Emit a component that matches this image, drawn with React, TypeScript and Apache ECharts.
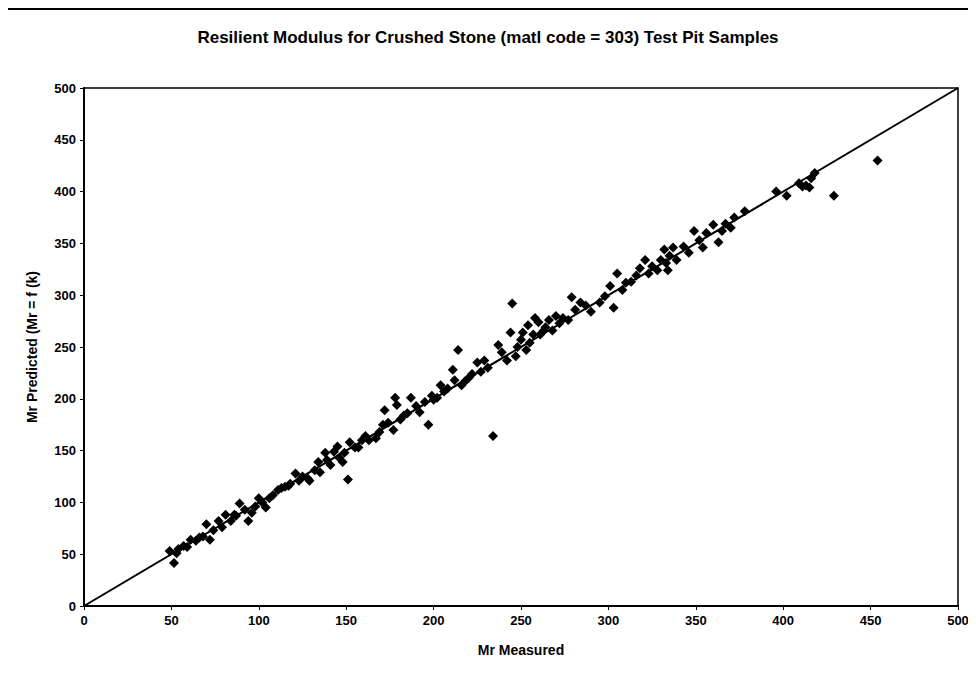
import React, { useEffect, useRef } from "react";
import * as echarts from "echarts";

const titleText = "Resilient Modulus for Crushed Stone (matl code = 303) Test Pit Samples";
const xAxisName = "Mr Measured";
const yAxisName = "Mr Predicted (Mr = f (k)";

const measured: number[] = [
  49, 51.5, 54, 57, 61, 64, 66, 70, 72, 74, 77, 79, 81, 84, 86, 89, 92, 94, 96, 100,
  102, 104, 108, 111, 115, 118, 121, 123, 125, 128, 129, 134, 135, 138, 139, 141, 143, 145, 148, 149,
  151, 152, 155, 157, 159, 161, 167, 169, 171, 172, 174, 177, 178, 179, 181, 183, 187, 190, 192, 195,
  197, 199, 202, 204, 206, 208, 211, 212, 214, 216, 220, 222, 225, 227, 229, 231, 234, 237, 239, 242,
  244, 245, 247, 250, 251, 253, 254, 255, 258, 260, 261, 264, 266, 268, 270, 274, 277, 279, 281, 284,
  287, 290, 298, 301, 303, 305, 308, 313, 316, 318, 321, 323, 325, 328, 330, 332, 333, 334, 337, 339,
  343, 349, 352, 354, 356, 360, 363, 367, 370, 372, 378, 396, 402, 409, 411, 413, 415, 416, 418, 429,
  454, 53, 59, 68, 87, 98, 106, 113, 117, 132, 146, 163, 185, 200, 218, 248, 257, 263, 272, 295,
  310, 335, 346, 365
];
const predicted: number[] = [
  53, 41.5, 55, 58, 64, 63, 66, 79, 64, 73, 82, 76, 88, 82, 88, 99, 93, 82, 90, 104,
  100, 95, 107, 112, 115, 118, 128, 121, 125, 123, 121, 139, 129, 148, 141, 136, 149, 154, 139, 148,
  122, 158, 153, 153, 160, 164, 162, 168, 175, 189, 177, 170, 201, 194, 180, 184, 201, 193, 187, 197,
  175, 203, 201, 213, 207, 210, 228, 218, 247, 213, 220, 224, 235, 226, 237, 230, 164, 252, 245, 237,
  264, 292, 241, 257, 264, 247, 271, 254, 278, 274, 262, 269, 276, 266, 280, 278, 276, 298, 286, 293,
  290, 284, 299, 309, 288, 321, 305, 313, 319, 326, 334, 321, 328, 324, 334, 344, 331, 324, 346, 334,
  347, 362, 353, 346, 360, 368, 351, 369, 365, 375, 381, 400, 396, 408, 405, 406, 404, 413, 418, 396,
  430, 51, 57, 67, 87, 96, 104, 114, 116, 131, 143, 160, 186, 199, 217, 250, 262, 266, 273, 293,
  312, 338, 341, 362
];
const lineX: number[] = [0, 500];
const lineY: number[] = [0, 500];

export default function App() {
  const ref = useRef<HTMLDivElement>(null);
  useEffect(() => {
    if (!ref.current) return;
    const chart = echarts.init(ref.current, undefined, { renderer: "svg" });
    const font = "'Liberation Sans', Arial, sans-serif";
    const border = () => ({ stroke: "#000", lineWidth: 2 });
    chart.setOption({
      animation: false,
      backgroundColor: "#fff",
      title: {
        text: titleText,
        left: "center",
        top: 24,
        textStyle: { fontFamily: font, fontSize: 17, fontWeight: "bold", color: "#000" },
      },
      grid: {
        left: 84,
        right: 18,
        top: 88,
        bottom: 69,
        show: true,
        borderColor: "#000",
        borderWidth: 1.5,
        backgroundColor: "transparent",
      },
      xAxis: {
        type: "value",
        min: 0,
        max: 500,
        interval: 50,
        name: xAxisName,
        nameLocation: "middle",
        nameGap: 37,
        nameTextStyle: { fontFamily: font, fontSize: 14, fontWeight: "bold", color: "#000" },
        axisLine: { lineStyle: { color: "#000", width: 2 } },
        axisTick: { show: true, inside: false, length: 4, lineStyle: { color: "#000" } },
        axisLabel: { fontFamily: font, fontSize: 13, fontWeight: "bold", color: "#000", margin: 8 },
        splitLine: { show: false },
      },
      yAxis: {
        type: "value",
        min: 0,
        max: 500,
        interval: 50,
        name: yAxisName,
        nameLocation: "middle",
        nameGap: 45,
        nameRotate: 90,
        nameTextStyle: { fontFamily: font, fontSize: 14, fontWeight: "bold", color: "#000" },
        axisLine: { lineStyle: { color: "#000", width: 2 } },
        axisTick: { show: true, inside: false, length: 4, lineStyle: { color: "#000" } },
        axisLabel: { fontFamily: font, fontSize: 13, fontWeight: "bold", color: "#000", margin: 8 },
        splitLine: { show: false },
      },
      graphic: [
        { type: "line", shape: { x1: 7, y1: 9, x2: 972, y2: 9 }, style: border(), silent: true, z: 100 },
        { type: "line", shape: { x1: 7, y1: 9, x2: 7, y2: 668 }, style: border(), silent: true, z: 100 },
        { type: "line", shape: { x1: 7, y1: 668, x2: 972, y2: 668 }, style: border(), silent: true, z: 100 },
        { type: "line", shape: { x1: 972, y1: 9, x2: 972, y2: 668 }, style: border(), silent: true, z: 100 },
      ],
      series: [
        {
          type: "line",
          data: lineX.map((x, i) => [x, lineY[i]]),
          symbol: "none",
          lineStyle: { color: "#000", width: 2 },
          z: 3,
        },
        {
          type: "scatter",
          data: measured.map((x, i) => [x, predicted[i]]),
          symbol: "diamond",
          symbolSize: 10,
          itemStyle: { color: "#000", opacity: 1 },
          z: 4,
        },
      ],
    });
    return () => chart.dispose();
  }, []);
  return <div ref={ref} style={{ width: 976, height: 675, margin: -8 }} />;
}
